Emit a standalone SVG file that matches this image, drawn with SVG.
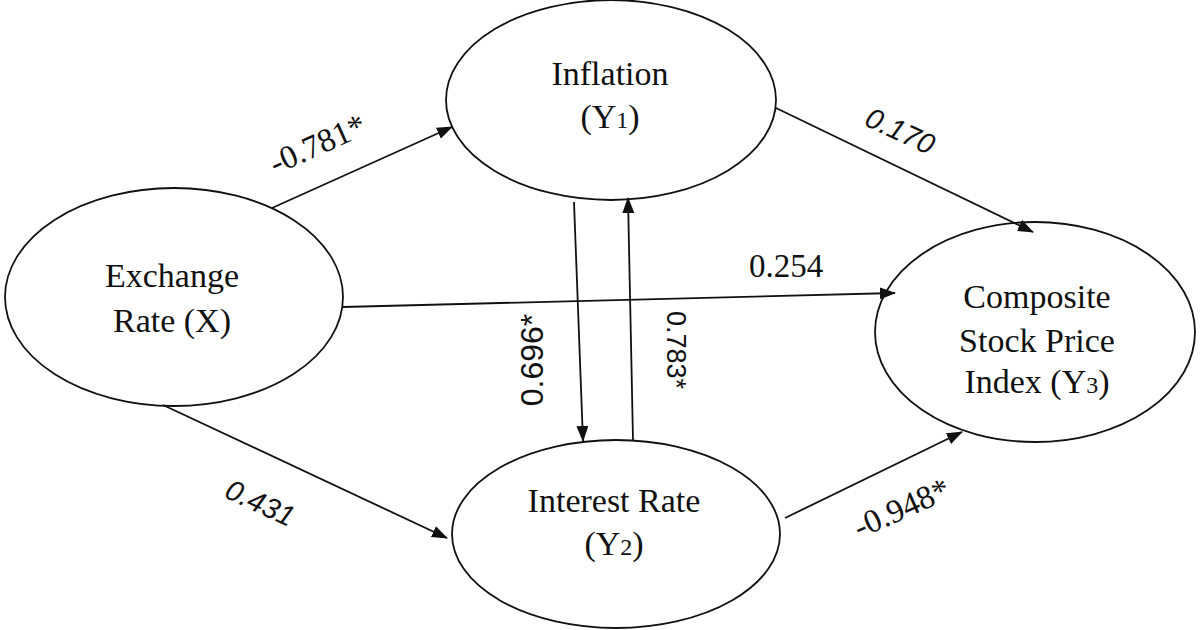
<svg xmlns="http://www.w3.org/2000/svg" width="1200" height="630" viewBox="0 0 1200 630">
<style>
.n{fill:#fff;stroke:#111;stroke-width:1.8}
.t{font-family:"Liberation Serif","Times New Roman",serif;font-size:34px;fill:#111;text-anchor:middle}
.l{font-family:"Liberation Serif","Times New Roman",serif;font-size:33px;fill:#111;text-anchor:middle}
.s{font-family:"Liberation Sans",Arial,sans-serif;fill:#111;text-anchor:middle}
.c{stroke:#111;stroke-width:1.8;fill:none;marker-end:url(#ah)}
</style>
<defs>
<marker id="ah" markerWidth="16" markerHeight="12" refX="15" refY="6" orient="auto" markerUnits="userSpaceOnUse">
<path d="M0,0 L16,6 L0,12 z" fill="#111"/>
</marker>
</defs>
<rect width="1200" height="630" fill="#fff"/>
<g id="inflation">
<ellipse class="n" cx="611" cy="100" rx="165" ry="100"/>
<text class="t" x="610" y="85">Inflation</text>
<text class="t" x="610" y="128">(Y<tspan font-size="24">1</tspan>)</text>
</g>
<g id="exchange">
<ellipse class="n" cx="174" cy="297" rx="169" ry="109"/>
<text class="t" x="172" y="287">Exchange</text>
<text class="t" x="172" y="332">Rate (X)</text>
</g>
<g id="interest">
<ellipse class="n" cx="616" cy="534" rx="164" ry="94"/>
<text class="t" x="614" y="512">Interest Rate</text>
<text class="t" x="614" y="555">(Y<tspan font-size="24">2</tspan>)</text>
</g>
<g id="composite">
<ellipse class="n" cx="1035" cy="332" rx="160" ry="110"/>
<text class="t" x="1037" y="308">Composite</text>
<text class="t" x="1037" y="352">Stock Price</text>
<text class="t" x="1037" y="393">Index (Y<tspan font-size="24">3</tspan>)</text>
</g>
<g id="connectors">
<line class="c" x1="272" y1="208" x2="452" y2="127"/>
<line class="c" x1="343" y1="307" x2="895" y2="293"/>
<line class="c" x1="163" y1="405" x2="447" y2="538"/>
<line class="c" x1="776" y1="108" x2="1033" y2="232"/>
<line class="c" x1="785" y1="518" x2="962" y2="432"/>
<line class="c" x1="574" y1="202" x2="583" y2="441"/>
<line class="c" x1="633" y1="440" x2="628" y2="198"/>
<text class="l" transform="translate(322,154) rotate(-24)">-0.781*</text>
<text class="l" x="786" y="277">0.254</text>
<text class="s" font-size="29" font-style="italic" transform="translate(896,140) rotate(25)">0.170</text>
<text class="s" font-size="29" font-style="italic" transform="translate(256,512) rotate(25)">0.431</text>
<text class="l" transform="translate(906,518) rotate(-24)">-0.948*</text>
<text class="s" font-size="32" transform="translate(543,360) rotate(-90)">0.696*</text>
<text class="s" font-size="27" transform="translate(667,350) rotate(90)">0.783*</text>
</g>
</svg>
